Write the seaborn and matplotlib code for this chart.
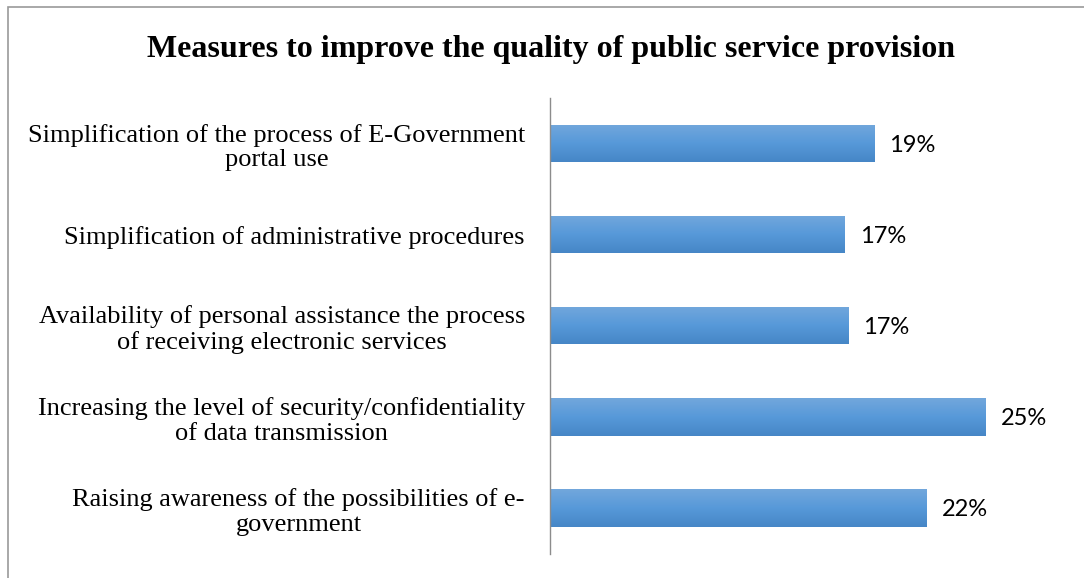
import numpy as np
import pandas as pd
import matplotlib
matplotlib.use("Agg")
import matplotlib.pyplot as plt
import matplotlib.patches as mpatches
from matplotlib.colors import LinearSegmentedColormap
import seaborn as sns

categories = [
    "Simplification of the process of E-Government\nportal use",
    "Simplification of administrative procedures",
    "Availability of personal assistance the process\nof receiving electronic services",
    "Increasing the level of security/confidentiality\nof data transmission",
    "Raising awareness of the possibilities of e-\ngovernment",
]
shares = [18.6, 16.9, 17.1, 25.0, 21.6]

title = "Measures to improve the quality of public service provision"

sns.set_theme(style="white")
plt.rcParams["font.family"] = ["Liberation Serif", "DejaVu Serif"]

df = pd.DataFrame({"measure": categories, "share": shares})

W, H = 1084, 578
fig = plt.figure(figsize=(W / 100, H / 100), dpi=100)
ax_left, ax_right = 550, 1050
ax_top, ax_bottom = 98, 553.5
ax = fig.add_axes([ax_left / W, 1 - ax_bottom / H,
                   (ax_right - ax_left) / W, (ax_bottom - ax_top) / H])

sns.barplot(data=df, x="share", y="measure", ax=ax, color="#5b9bd5",
            width=0.41, saturation=1, orient="h")

ax.set_xlim(0, 25.0 * (ax_right - ax_left) / 436)
ax.set_ylim(len(categories) - 0.5, -0.5)

# vertical gradient fill for each bar
grad_cmap = LinearSegmentedColormap.from_list(
    "bar", ["#72a7dc", "#5799d9", "#4686c6"])
grad = np.linspace(0, 1, 64).reshape(-1, 1)
for patch in ax.patches:
    x0, y0 = patch.get_x(), patch.get_y()
    w, h = patch.get_width(), patch.get_height()
    im = ax.imshow(grad, cmap=grad_cmap, aspect="auto",
                   extent=[x0, x0 + w, y0 + h, y0], zorder=patch.get_zorder() + 0.1,
                   interpolation="bicubic")
    im.set_clip_path(patch)
    patch.set_edgecolor("none")

# value labels
for patch, v in zip(ax.patches, shares):
    ax.text(patch.get_x() + patch.get_width() + 0.85,
            patch.get_y() + patch.get_height() / 2,
            f"{v:.0f}%", va="center_baseline", ha="left", fontsize=17,
            family=["Lato", "DejaVu Sans"], color="#000000")

ax.set_xlabel("")
ax.set_ylabel("")
ax.set_xticks([])
ax.tick_params(axis="y", length=0, pad=18)
for lbl in ax.get_yticklabels():
    lbl.set_fontsize(19)
    lbl.set_color("#000000")
    lbl.set_multialignment("center")
    lbl.set_linespacing(1.17)

for side in ["top", "right", "bottom"]:
    ax.spines[side].set_visible(False)
ax.spines["left"].set_color("#8c8c8c")
ax.spines["left"].set_linewidth(1.0)

fig.text(551 / W, 1 - 49 / H, title, ha="center", va="center",
         fontsize=23, fontweight="bold", color="#000000")

# outer chart frame
frame = mpatches.Rectangle((8 / W, -0.05), 1.1, 1 - 7 / H + 0.05,
                           transform=fig.transFigure, fill=False,
                           edgecolor="#9a9a9a", linewidth=1.2)
fig.add_artist(frame)

fig.savefig("out.png", dpi=100, facecolor="white")
